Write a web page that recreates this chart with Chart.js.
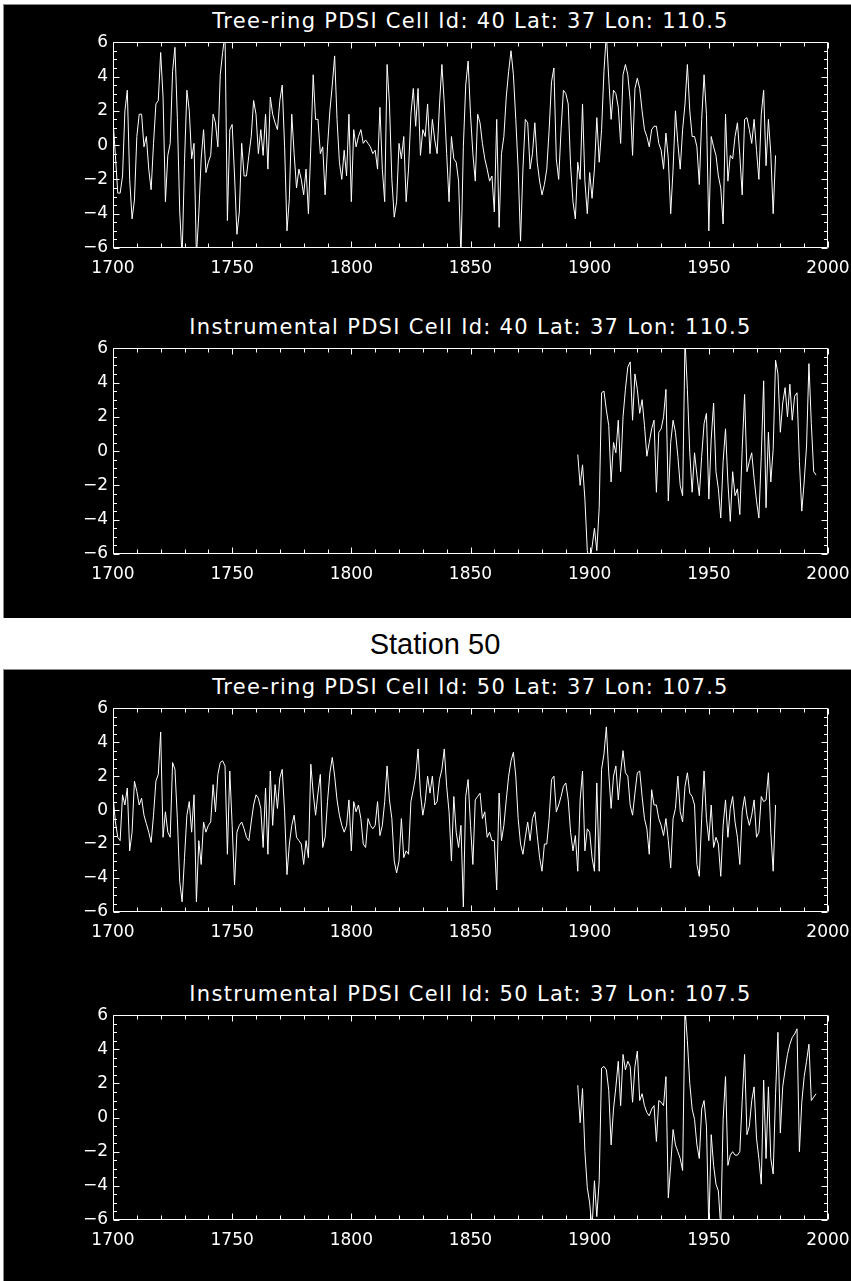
<!DOCTYPE html>
<html>
<head>
<meta charset="utf-8">
<script src="https://cdn.jsdelivr.net/npm/chart.js@4.4.1/dist/chart.umd.min.js"></script>
<style>
  body { margin: 0; width: 851px; height: 1281px; background: #fff; position: relative; overflow: hidden; }
  .panel { position: absolute; left: 3px; right: 0; background: #000; border-top: 1px solid #8a8a8a; border-left: 1px solid #8a8a8a; }
  .ttl { position: absolute; left: 113px; width: 715px; text-align: center; color: #fff; white-space: nowrap;
         font-family: "DejaVu Sans", sans-serif; font-size: 21px; line-height: 21px; letter-spacing: 1.3px; }
  #station { position: absolute; left: 335px; width: 200px; text-align: center; top: 630px; color: #000;
             font-family: "Liberation Sans", Arial, sans-serif; font-size: 29px; line-height: 29px; }
  canvas { position: absolute; left: 0; }
</style>
</head>
<body>
<div class="panel" style="top:4px;height:613px"></div>
<div class="panel" style="top:669px;height:612px"></div>
<div id="station">Station 50</div>

<div class="ttl" style="top:11px">Tree-ring PDSI Cell Id: 40 Lat: 37 Lon: 110.5</div>
<canvas id="c1" width="851" height="261" style="top:27px"></canvas>
<div class="ttl" style="top:317px">Instrumental PDSI Cell Id: 40 Lat: 37 Lon: 110.5</div>
<canvas id="c2" width="851" height="261" style="top:333px"></canvas>
<div class="ttl" style="top:677px">Tree-ring PDSI Cell Id: 50 Lat: 37 Lon: 107.5</div>
<canvas id="c3" width="851" height="259" style="top:693px"></canvas>
<div class="ttl" style="top:984px">Instrumental PDSI Cell Id: 50 Lat: 37 Lon: 107.5</div>
<canvas id="c4" width="851" height="260" style="top:1000px"></canvas>

<script>
// first year of each record, values are one per year
const treeStart = 1700;
const instStart = 1895;

const xTicks = [1700, 1750, 1800, 1850, 1900, 1950, 2000];
const yTicks = [-6, -4, -2, 0, 2, 4, 6];

// Tree-ring PDSI, cell 40 (1700-1978)
const tree40 = [
  1.5, -0.6, -2.8, -2.8, -1.8, 2.0, 3.2, -2.0, -4.3, -3.2,
  0.5, 1.8, 1.8, -0.1, 0.5, -1.4, -2.6, 0.1, 2.4, 2.6,
  5.4, 2.8, -3.3, -0.6, 0.1, 4.3, 5.7, 1.6, -3.9, -6.5,
  -1.0, 3.2, 2.0, -0.8, 0.1, -6.5, -4.0, -0.8, 0.9, -1.6,
  -1.0, -0.6, 1.8, 1.3, -0.1, 4.1, 5.4, 6.5, -4.4, 0.9,
  1.2, -1.8, -5.2, -3.9, 0.1, -1.8, -1.8, -0.6, 0.5, 2.6,
  1.8, -0.5, 0.9, -0.6, 1.8, -1.4, 2.8, 1.8, 1.3, 0.9,
  2.6, 3.5, -0.1, -5.0, -3.1, 1.8, -0.5, -2.5, -1.4, -2.0,
  -2.9, -1.4, -4.0, -0.1, 4.1, 1.5, 1.5, -0.5, -0.1, -2.9,
  -0.1, 2.0, 3.5, 5.2, 1.5, -1.0, -2.0, -0.3, -1.8, 1.8,
  -3.3, 0.9, -0.1, 0.5, 0.9, 0.1, 0.3, 0.1, -0.1, -0.5,
  -0.3, -1.4, 2.2, -1.4, -3.3, 4.7, 2.4, -2.0, -4.2, -3.3,
  0.1, -0.8, 0.5, -3.3, -1.4, 1.8, 3.3, 1.1, 3.3, -0.6,
  0.9, 0.5, 2.4, -0.5, 1.5, 0.3, -0.5, 2.4, 4.7, 2.4,
  -0.5, -3.3, 0.5, -0.8, -1.0, -2.1, -6.5, -0.1, 3.5, 4.9,
  1.8, -0.5, -2.1, 1.8, 1.3, 0.1, -0.8, -1.4, -2.1, -1.8,
  -3.9, 1.5, -4.8, -0.5, 0.5, 2.8, 4.3, 5.5, 4.1, 1.5,
  -1.4, -5.6, -1.4, 1.5, 1.3, -1.4, -0.5, 1.3, -1.0, -2.1,
  -2.9, -2.3, -1.4, 0.9, 3.7, 4.5, -0.8, -2.0, 0.9, 3.2,
  3.0, 2.4, -1.2, -3.3, -4.3, -1.0, -2.0, 2.4, -2.1, -4.0,
  -1.6, -3.1, -1.4, 1.6, -1.0, 0.9, 4.3, 6.5, 3.9, 1.5,
  3.2, 3.0, 2.2, 0.1, 4.1, 4.7, 4.1, 2.6, -0.6, 3.3,
  3.9, 3.3, 2.0, 0.9, 0.5, -0.1, 0.9, 1.1, 1.1, 0.1,
  -0.3, -1.4, 0.7, -0.8, -4.0, -1.4, 2.0, 0.1, -1.4, 0.9,
  2.4, 4.7, 2.0, 0.5, 0.5, -0.1, -2.3, 1.5, 4.1, 1.8,
  -5.0, 0.5, -0.1, -0.6, -1.8, -2.5, -4.6, 1.8, -2.1, -0.6,
  -0.8, 0.5, 1.3, -0.6, -2.9, 1.5, 1.6, 0.9, 0.1, 1.5,
  -0.3, -2.0, 1.8, 3.2, -1.2, 1.5, -0.5, -4.0, -0.6
];

// Instrumental PDSI, cell 40 (1895-1995)
const inst40 = [
  -0.2, -2.0, -0.8, -2.8, -5.8,
  -6.5, -5.6, -4.5, -5.8, -3.3, 3.4, 3.5, 2.4, 1.5, -1.8,
  0.5, -0.1, 1.8, -1.2, 2.0, 3.6, 4.9, 5.2, 1.8, 4.5,
  3.6, 2.2, 3.0, 1.5, -0.3, 0.5, 1.3, 1.8, -2.4, 1.1,
  1.3, 2.0, 3.6, -2.9, 0.5, 1.8, 1.1, -0.3, -2.0, -2.6,
  6.5, 3.6, -0.1, -2.4, -0.1, -1.4, -2.6, -0.3, 1.6, 2.2,
  -2.8, 0.7, 2.8, -1.2, -2.2, -3.9, -0.6, 1.3, -1.8, -4.1,
  -1.2, -2.6, -2.2, -3.7, 0.1, 3.3, -1.2, -0.6, -0.1, -1.6,
  -2.9, -3.9, -0.3, 4.1, -3.3, 1.1, -1.8, 0.1, 5.3, 4.5,
  1.1, 2.8, 3.7, 2.0, 3.9, 1.8, 3.2, 3.4, -0.6, -3.5,
  -1.8, 0.3, 5.1, 1.6, -1.2, -1.4
];

// Tree-ring PDSI, cell 50 (1700-1978)
const tree50 = [
  0.9, -0.7, -1.6, -1.8, 0.9, 0.3, 1.3, -2.4, -1.3, 1.7,
  1.1, 0.3, 0.7, -0.3, -0.8, -1.3, -1.9, -0.3, 1.7, 2.1,
  4.6, -1.6, -0.1, -1.3, -1.6, 2.8, 2.4, -0.5, -4.2, -5.4,
  -2.8, -0.3, 0.5, -1.3, 0.9, -5.4, -1.8, -3.2, -0.7, -1.3,
  -0.9, -0.7, 1.5, -0.1, 2.1, 2.8, 2.9, 2.6, -2.6, 2.3,
  -0.9, -4.4, -1.3, -0.9, -0.7, -1.1, -1.6, -1.8, -0.7, 0.3,
  0.9, 0.7, 0.1, -2.2, 1.3, -2.6, 2.3, -0.9, 1.5, 0.1,
  1.9, 2.4, -0.1, -3.8, -2.0, -0.9, -0.3, -1.6, -1.8, -2.0,
  -3.2, -1.8, -2.8, 2.7, 1.0, -0.3, 1.0, 2.1, -2.2, -1.6,
  0.5, 2.2, 3.1, 2.0, 0.6, -0.3, -0.9, -1.3, -0.9, 0.6,
  -2.4, 0.5, -0.1, 0.3, -0.5, -2.0, -2.2, -0.5, -0.9, -1.1,
  -0.9, 0.5, -1.5, -0.9, 0.5, 2.6, 0.6, -0.5, -3.0, -3.7,
  -3.0, -0.5, -2.8, -2.4, -2.6, 0.5, 1.2, 2.0, 3.6, 1.0,
  -0.3, 0.5, 2.0, 1.0, 2.0, 0.3, 0.5, 1.8, 2.4, 3.6,
  1.4, -0.1, -3.0, 0.8, -1.3, -2.2, -0.9, -5.7, 0.8, 1.8,
  -0.9, -3.2, 0.6, 0.8, 1.0, -0.5, -0.1, -1.6, -1.3, -1.8,
  -1.8, -4.7, 1.0, -1.8, -0.9, 0.6, 2.0, 2.9, 3.4, 2.0,
  -0.5, -2.0, -2.6, -1.6, -0.7, -1.8, -0.5, -0.1, -1.5, -2.8,
  -3.6, -2.0, -2.0, -0.5, 1.8, 2.0, -0.1, 0.3, 0.8, 1.4,
  1.6, 0.6, -1.3, -2.4, -1.5, -3.6, 0.6, 2.3, -2.4, -1.1,
  -1.3, -2.8, -3.6, 1.6, -3.6, 2.4, 3.3, 4.9, 2.2, 0.1,
  2.0, 2.6, 0.6, 2.2, 3.5, 2.2, 2.0, 0.3, -0.3, 1.0,
  2.2, 2.3, 0.8, -0.5, -1.1, -2.6, 1.2, 0.3, 0.3, -0.5,
  -0.9, -1.5, -0.5, -1.8, -3.4, -0.5, 0.1, 2.0, -0.1, -0.7,
  1.4, 2.2, 1.0, 0.8, 0.3, -3.2, -3.9, -0.5, 2.3, -0.5,
  -1.8, 0.3, -2.2, -1.6, -2.0, -3.9, -0.9, 0.6, -1.6, 0.1,
  0.8, -0.7, -1.6, -3.2, -0.1, 0.8, -0.3, -0.9, -0.3, 0.6,
  -1.6, -1.3, 0.8, 0.5, 0.6, 2.2, -1.3, -3.6, 0.3
];

// Instrumental PDSI, cell 50 (1895-1995)
const inst50 = [
  1.9, -0.3, 1.7, -2.0, -4.1,
  -5.0, -6.5, -3.7, -5.8, -3.7, 2.9, 3.0, 2.8, 1.6, -1.6,
  0.5, 1.8, 3.3, 0.7, 3.7, 2.8, 3.3, 3.0, 0.9, 3.0,
  3.9, 1.0, 1.4, 0.7, 0.3, 0.1, 0.5, 0.7, -1.4, 1.0,
  0.9, 0.7, 2.4, -4.7, -2.8, -0.7, -1.6, -2.0, -2.4, -3.1,
  6.5, 4.5, 2.0, 0.5, -0.1, -1.6, -2.4, 0.5, 1.0, -0.5,
  -6.5, -1.0, -2.8, -3.9, -4.3, -6.5, -0.1, 2.4, -2.8, -2.2,
  -2.0, -2.2, -2.2, -2.0, 1.0, 3.7, -1.0, -0.5, 1.0, 1.8,
  -1.2, -2.4, -3.9, 2.2, -2.4, 1.8, -2.4, -3.3, 1.4, 5.0,
  -0.9, 1.8, 2.8, 3.7, 4.3, 4.7, 4.9, 5.2, -2.0, 0.9,
  2.4, 3.3, 4.3, 1.0, 1.2, 1.4
];

const fmtY = v => (v < 0 ? '\u2212' + Math.abs(v) : String(v));

// IDL style box: closed frame with inward major/minor ticks on all sides
const idlFrame = {
  id: 'idlFrame',
  afterDraw(chart) {
    const { ctx, chartArea: a, scales: { x, y } } = chart;
    const L = Math.round(a.left) + 0.5, R = Math.round(a.right) - 0.5;
    const T = Math.round(a.top) + 0.5, B = Math.round(a.bottom) - 0.5;
    ctx.save();
    ctx.strokeStyle = '#fff';
    ctx.lineWidth = 1;
    ctx.beginPath();
    ctx.rect(L, T, R - L, B - T);
    for (let v = x.min; v <= x.max; v += 10) {
      const px = Math.round(x.getPixelForValue(v)) + 0.5;
      const len = v % 50 === 0 ? 6 : 4;
      ctx.moveTo(px, B); ctx.lineTo(px, B - len);
      ctx.moveTo(px, T); ctx.lineTo(px, T + len);
    }
    for (let v = y.min; v <= y.max; v += 0.5) {
      const py = Math.round(y.getPixelForValue(v)) + 0.5;
      const len = Math.abs(v % 2) === 0 ? 6 : 3.5;
      ctx.moveTo(L, py); ctx.lineTo(L + len, py);
      ctx.moveTo(R, py); ctx.lineTo(R - len, py);
    }
    ctx.stroke();
    ctx.restore();
  }
};

function makeChart(id, start, values) {
  const pts = values.map((v, i) => ({ x: start + i, y: v }));
  return new Chart(document.getElementById(id), {
    type: 'line',
    data: {
      datasets: [{
        data: pts,
        borderColor: '#fff',
        borderWidth: 1,
        pointRadius: 0,
        tension: 0
      }]
    },
    options: {
      responsive: false,
      animation: false,
      layout: { padding: { top: 10, right: 23, left: 0, bottom: 0 } },
      scales: {
        x: {
          type: 'linear',
          min: 1700,
          max: 2000,
          afterBuildTicks: s => { s.ticks = xTicks.map(v => ({ value: v })); },
          afterFit: s => { s.height = 40; },
          // tick marks themselves are drawn inward by idlFrame
          grid: { display: false, drawTicks: true, tickLength: 10 },
          border: { display: false },
          ticks: {
            color: '#fff',
            padding: 0,
            maxRotation: 0,
            autoSkip: false,
            font: { family: 'DejaVu Sans', size: 17 },
            callback: v => String(v)
          }
        },
        y: {
          min: -6,
          max: 6,
          afterBuildTicks: s => { s.ticks = yTicks.map(v => ({ value: v })); },
          afterFit: s => { s.width = 113; },
          grid: { display: false, drawTicks: false },
          border: { display: false },
          ticks: {
            color: '#fff',
            padding: 5,
            font: { family: 'DejaVu Sans', size: 17 },
            callback: fmtY
          }
        }
      },
      plugins: {
        legend: { display: false },
        tooltip: { enabled: false }
      }
    },
    plugins: [idlFrame]
  });
}

makeChart('c1', treeStart, tree40);
makeChart('c2', instStart, inst40);
makeChart('c3', treeStart, tree50);
makeChart('c4', instStart, inst50);
</script>
</body>
</html>
